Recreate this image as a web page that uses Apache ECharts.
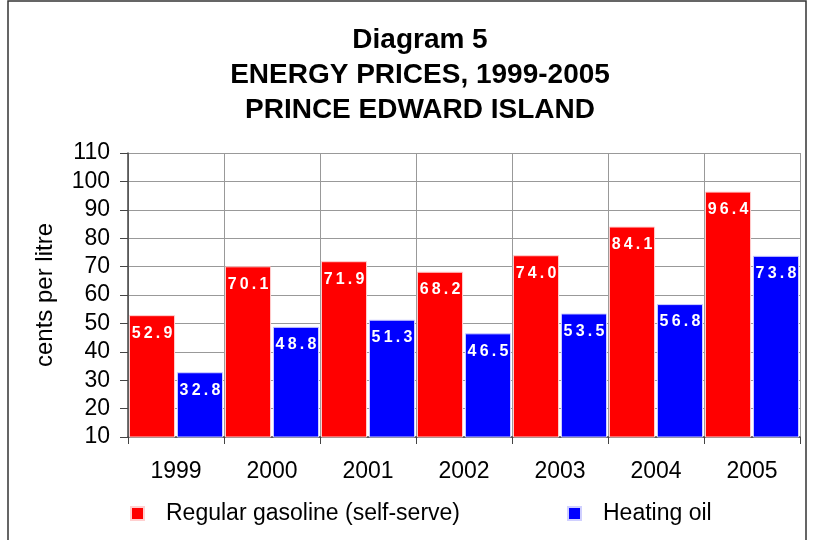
<!DOCTYPE html>
<html>
<head>
<meta charset="utf-8">
<script src="https://cdn.jsdelivr.net/npm/echarts@6/dist/echarts.min.js"></script>
<style>
html, body { margin: 0; padding: 0; background: #fff; }
#chart { width: 813px; height: 540px; }
</style>
</head>
<body>
<div id="chart"></div>
<script>
var years = ['1999', '2000', '2001', '2002', '2003', '2004', '2005'];
var gasoline = [52.9, 70.1, 71.9, 68.2, 74.0, 84.1, 96.4];
var heatingOil = [32.8, 48.8, 51.3, 46.5, 53.5, 56.8, 73.8];
var titleLines = ['Diagram 5', 'ENERGY PRICES, 1999-2005', 'PRINCE EDWARD ISLAND'];

var myChart = echarts.init(document.getElementById('chart'));

// white labels, spaced out like the original
function spaced(p) {
    return p.value.toFixed(1).split('').join('\u2009');
}

var barLabel = {
    show: true,
    position: 'insideTop',
    distance: 10,
    color: '#fff',
    fontFamily: 'Liberation Sans',
    fontWeight: 'bold',
    fontSize: 16,
    formatter: spaced
};

option = {
    animation: false,
    textStyle: { fontFamily: 'Liberation Sans' },
    graphic: [
        { // outer frame
            type: 'rect',
            shape: { x: 8, y: 1, width: 798, height: 560 },
            style: { fill: 'none', stroke: '#333', lineWidth: 1.5 }
        }
    ],
    title: {
        text: titleLines.join('\n'),
        left: 415,
        top: 18,
        textAlign: 'center',
        textStyle: {
            fontFamily: 'Liberation Sans',
            fontWeight: 'bold',
            fontSize: 28,
            lineHeight: 35,
            color: '#000'
        }
    },
    legend: {
        left: 130,
        top: 502,
        padding: 0,
        itemWidth: 13,
        itemHeight: 13,
        itemGap: 107,
        icon: 'rect',
        textStyle: { fontSize: 23, color: '#000', padding: [0, 0, 0, 17] },
        data: ['Regular gasoline (self-serve)', 'Heating oil']
    },
    grid: {
        left: 128,
        right: 13,
        top: 153,
        bottom: 103
    },
    xAxis: {
        type: 'category',
        data: years,
        axisLine: { lineStyle: { color: '#444', width: 1.5 } },
        axisTick: { show: true, length: 7, lineStyle: { color: '#444' } },
        axisLabel: { color: '#000', fontSize: 23, margin: 23 },
        splitLine: { show: true, lineStyle: { color: '#999' } }
    },
    yAxis: {
        type: 'value',
        min: 10,
        max: 110,
        interval: 10,
        name: 'cents per litre',
        nameLocation: 'middle',
        nameRotate: 90,
        nameGap: 71,
        nameTextStyle: { fontSize: 24, color: '#000' },
        axisLine: { show: true, lineStyle: { color: '#444', width: 1.5 } },
        axisTick: { show: true, length: 8, lineStyle: { color: '#444' } },
        axisLabel: { color: '#000', fontSize: 23, margin: 18 },
        splitLine: { show: true, lineStyle: { color: '#999' } }
    },
    series: [
        {
            name: 'Regular gasoline (self-serve)',
            type: 'bar',
            data: gasoline,
            barGap: '4%',
            barCategoryGap: '2%',
            itemStyle: { color: '#ff0000', borderColor: '#ffd0d0', borderWidth: 1 },
            label: barLabel
        },
        {
            name: 'Heating oil',
            type: 'bar',
            data: heatingOil,
            itemStyle: { color: '#0000ff', borderColor: '#d0d0ff', borderWidth: 1 },
            label: barLabel
        }
    ]
};
myChart.setOption(option);
</script>
</body>
</html>
